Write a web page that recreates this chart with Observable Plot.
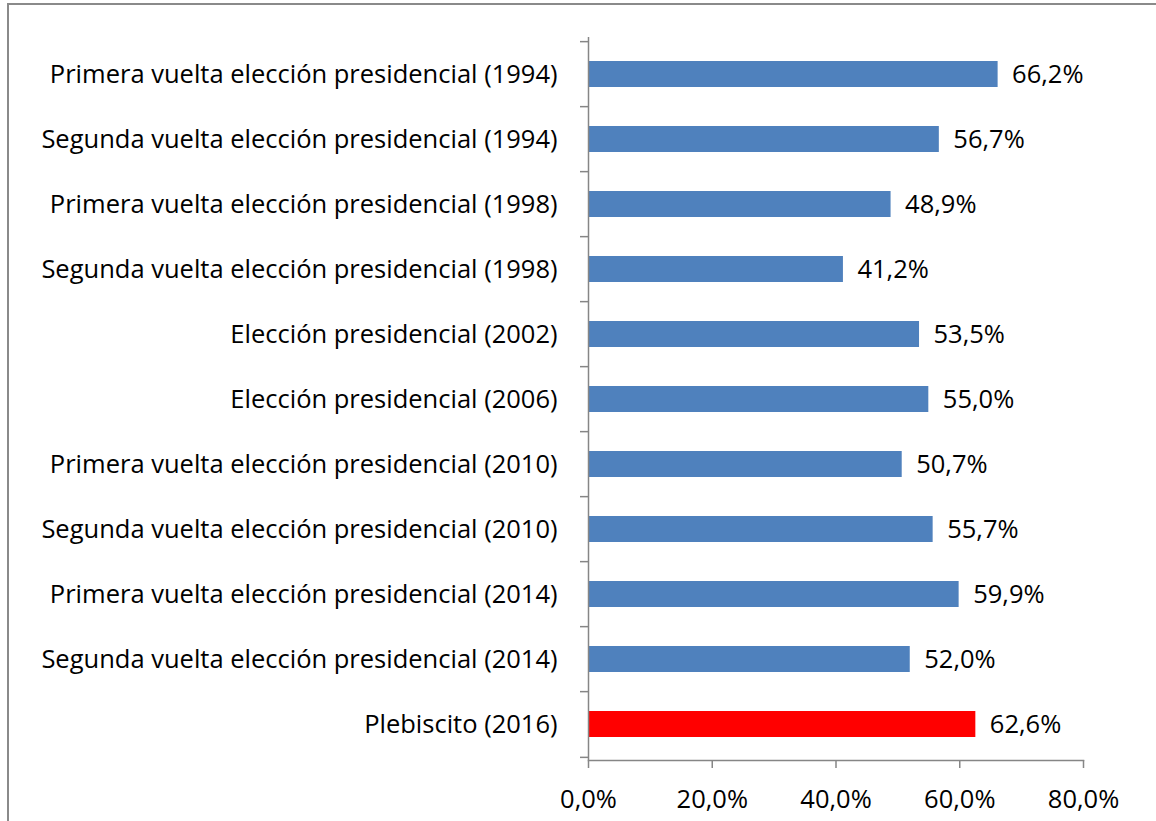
<!DOCTYPE html>
<html>
<head>
<meta charset="utf-8">
<script src="https://cdn.jsdelivr.net/npm/d3@7"></script>
<script src="https://cdn.jsdelivr.net/npm/@observablehq/plot@0.6"></script>
<style>
  html, body { margin: 0; padding: 0; background: #fff; }
  #frame { position: absolute; left: 7px; top: 3px; width: 1160px; height: 830px; border: 2px solid #8a8a8a; box-sizing: border-box; }
  #chart { position: absolute; left: 0; top: 0; }
  svg { font-family: "Open Sans", sans-serif; }
</style>
</head>
<body>
<div id="frame"></div>
<div id="chart"></div>
<script>
const categories = [
  "Primera vuelta elección presidencial (1994)",
  "Segunda vuelta elección presidencial (1994)",
  "Primera vuelta elección presidencial (1998)",
  "Segunda vuelta elección presidencial (1998)",
  "Elección presidencial (2002)",
  "Elección presidencial (2006)",
  "Primera vuelta elección presidencial (2010)",
  "Segunda vuelta elección presidencial (2010)",
  "Primera vuelta elección presidencial (2014)",
  "Segunda vuelta elección presidencial (2014)",
  "Plebiscito (2016)"
];
const values = [66.2, 56.7, 48.9, 41.2, 53.5, 55.0, 50.7, 55.7, 59.9, 52.0, 62.6];
const highlight = ["Plebiscito (2016)"];
const xTicks = [0, 20, 40, 60, 80];

const data = categories.map((c, i) => ({cat: c, value: values[i], hl: highlight.includes(c)}));
const fmt = v => v.toFixed(1).replace(".", ",") + "%";

const W = 1156, H = 821, mt = 37, mb = 61, ml = 588, mr = 73;
const step = (H - mt - mb) / categories.length;
const gray = "#868686";
const fs = 25.5;

const chart = Plot.plot({
  width: W, height: H,
  marginTop: mt, marginBottom: mb, marginLeft: ml, marginRight: mr,
  style: {fontSize: fs + "px", fontFamily: "'Open Sans', sans-serif", color: "#000", background: "transparent", overflow: "visible"},
  x: {domain: [0, 80], ticks: xTicks, label: null},
  y: {domain: categories, paddingInner: 0.6, paddingOuter: 0.3, label: null},
  marks: [
    Plot.barX(data, {y: "cat", x: "value", fill: d => d.hl ? "#FF0000" : "#4F81BD"}),
    Plot.text(data, {y: "cat", x: "value", text: d => fmt(d.value), textAnchor: "start", dx: 14, fontSize: fs, fill: "#000"}),
    Plot.axisY({tickSize: 0, tickPadding: 31, fontSize: fs, fill: "#000"}),
    Plot.axisY({tickSize: 8, tickFormat: () => "", dy: -step / 2, stroke: gray, strokeWidth: 1.5}),
    Plot.axisY([categories[categories.length - 1]], {tickSize: 8, tickFormat: () => "", dy: step / 2, stroke: gray, strokeWidth: 1.5}),
    Plot.axisX({ticks: xTicks, tickSize: 8, tickPadding: 21, tickFormat: fmt, fontSize: fs, stroke: gray, strokeWidth: 1.5, fill: "#000"}),
    Plot.ruleX([0], {stroke: gray, strokeWidth: 1.5}),
    Plot.frame({anchor: "bottom", stroke: gray, strokeWidth: 1.5})
  ]
});
document.getElementById("chart").appendChild(chart);
</script>
</body>
</html>
